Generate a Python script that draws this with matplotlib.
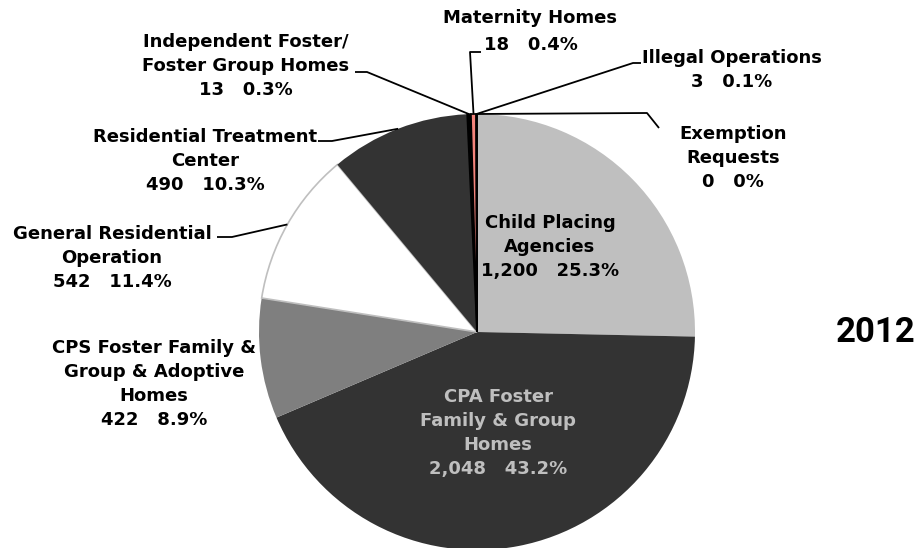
import numpy as np
import matplotlib
matplotlib.use("Agg")
from matplotlib import pyplot as plt

# slice order as drawn: clockwise from 12 o'clock
categories = [
    "Child Placing\nAgencies",
    "CPA Foster\nFamily & Group\nHomes",
    "CPS Foster Family &\nGroup & Adoptive\nHomes",
    "General Residential\nOperation",
    "Residential Treatment\nCenter",
    "Independent Foster/\nFoster Group Homes",
    "Maternity Homes",
    "Illegal Operations",
    "Exemption\nRequests",
]
counts = [1200, 2048, 422, 542, 490, 13, 18, 3, 0]
pct_labels = ["25.3%", "43.2%", "8.9%", "11.4%", "10.3%", "0.3%", "0.4%", "0.1%", "0%"]
year = "2012"

colors = ["#BFBFBF", "#333333", "#7F7F7F", "#FFFFFF", "#333333",
          "#000000", "#F4847C", "#1F4E79", "#000000"]
edges = ["none", "none", "none", "#BFBFBF", "none",
         "#000000", "#000000", "#000000", "#000000"]

W, H = 922, 548
CX, CY, R = 477, 332, 218


def P(px, py):
    # pixel position (origin top-left) -> data coords
    return px, H - py


plt.rcParams['font.family'] = ['DejaVu Sans']
fig = plt.figure(figsize=(W / 100, H / 100), dpi=100)
ax = fig.add_axes([0, 0, 1, 1])

wedges, _ = ax.pie(counts, colors=colors, startangle=90, counterclock=False,
                   radius=R, center=P(CX, CY), frame=True,
                   wedgeprops=dict(linewidth=1.2))
for w, ec in zip(wedges, edges):
    w.set_edgecolor(ec)
ax.set_xlim(0, W)
ax.set_ylim(0, H)
ax.set_aspect('equal')
ax.axis('off')


def anchor(i):
    w = wedges[i]
    th = np.deg2rad((w.theta1 + w.theta2) / 2)
    x0, y0 = P(CX, CY)
    return x0 + R * np.cos(th), y0 + R * np.sin(th)


kw = dict(fontsize=13, fontweight='bold', ha='center', va='center', linespacing=1.42)


def label(i, px, py, color='black'):
    txt = categories[i] + "\n" + f"{counts[i]:,}   {pct_labels[i]}"
    ax.text(*P(px, py), txt, color=color, **kw)


def leader(i, pts):
    xs, ys = zip(*([anchor(i)] + [P(*p) for p in pts]))
    ax.plot(xs, ys, color='black', lw=1.3, solid_capstyle='butt')


# labels inside the pie
label(0, 550, 247)
label(1, 498, 433, color='#BFBFBF')

# outside labels with leader lines
label(2, 154, 384)
label(3, 112, 258)
leader(3, [(232, 237), (217, 237)])
label(4, 205, 161)
leader(4, [(332, 141), (318, 141)])
label(5, 246, 66)
leader(5, [(367, 72), (355, 72)])
ax.text(*P(530, 18), categories[6], **kw)
ax.text(*P(531, 45), f"{counts[6]}   {pct_labels[6]}", **kw)
leader(6, [(470, 52), (481, 52)])
label(7, 732, 70)
leader(7, [(633, 63), (641, 63)])
label(8, 733, 158)
leader(8, [(647, 113), (659, 128)])

ax.text(*P(876, 332), year, fontsize=25, fontweight='bold', family='Roboto',
        ha='center', va='center')

fig.savefig("out.png", dpi=100)
